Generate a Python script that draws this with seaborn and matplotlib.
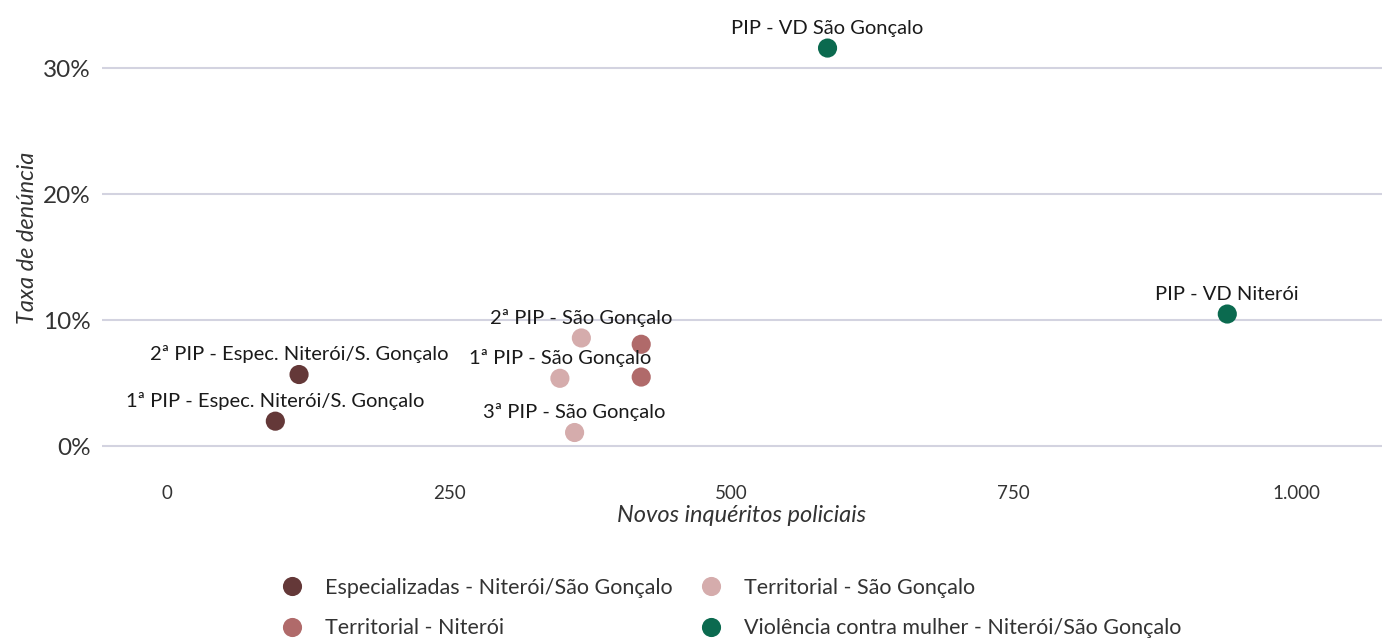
import seaborn as sns
import pandas as pd
import matplotlib.pyplot as plt
from matplotlib.ticker import FuncFormatter

# values
grupos = ["Especializadas - Niterói/São Gonçalo", "Especializadas - Niterói/São Gonçalo",
          "Territorial - São Gonçalo", "Territorial - São Gonçalo", "Territorial - São Gonçalo",
          "Territorial - Niterói", "Territorial - Niterói",
          "Violência contra mulher - Niterói/São Gonçalo", "Violência contra mulher - Niterói/São Gonçalo"]
rotulos = ["1ª PIP - Espec. Niterói/S. Gonçalo", "2ª PIP - Espec. Niterói/S. Gonçalo",
           "1ª PIP - São Gonçalo", "2ª PIP - São Gonçalo", "3ª PIP - São Gonçalo",
           None, None,
           "PIP - VD São Gonçalo", "PIP - VD Niterói"]
inqueritos = [96, 117, 348, 367, 361, 420, 420, 585, 939]
taxa = [2.0, 5.7, 5.4, 8.6, 1.1, 8.1, 5.5, 31.6, 10.5]

ordem = ["Especializadas - Niterói/São Gonçalo", "Territorial - Niterói",
         "Territorial - São Gonçalo", "Violência contra mulher - Niterói/São Gonçalo"]
cores = ["#643838", "#b06a6a", "#d5acac", "#0b6a4f"]

df = pd.DataFrame({"grupo": grupos, "rotulo": rotulos, "x": inqueritos, "y": taxa})

sns.set_style("white")
plt.rcParams["font.family"] = ["Lato", "DejaVu Sans"]

fig = plt.figure(figsize=(13.82, 6.4), dpi=100)
ax = fig.add_axes([0.0738, 0.273, 0.9262, 0.711])

sns.scatterplot(data=df, x="x", y="y", hue="grupo", hue_order=ordem,
                palette=cores, s=190, edgecolor="none", ax=ax, zorder=3)

for _, r in df.iterrows():
    if r["rotulo"]:
        ax.annotate(r["rotulo"], (r["x"], r["y"]), xytext=(0, 8),
                    textcoords="offset points", ha="center", va="bottom",
                    fontsize=14.5, color="#1a1a1a", zorder=4)

ax.set_xlim(-57.5, 1076)
ax.set_ylim(-1.5, 34.6)
ax.set_xticks([0, 250, 500, 750, 1000])
ax.xaxis.set_major_formatter(FuncFormatter(lambda v, p: f"{v:,.0f}".replace(",", ".")))
ax.set_yticks([0, 10, 20, 30])
ax.yaxis.set_major_formatter(FuncFormatter(lambda v, p: f"{v:.0f}%"))
ax.yaxis.grid(True, color="#d3d3e0", linewidth=1.5)
ax.set_axisbelow(True)
sns.despine(ax=ax, left=True, bottom=True)
ax.tick_params(axis="x", labelsize=13.5, colors="#333333", length=0, pad=14)
ax.tick_params(axis="y", labelsize=17.5, colors="#333333", length=0, pad=8)
ax.set_xlabel("Novos inquéritos policiais", fontsize=17, style="italic", color="#333333", labelpad=2)
ax.set_ylabel("Taxa de denúncia", fontsize=17, style="italic", color="#333333", labelpad=4)

sns.move_legend(ax, "upper center", bbox_to_anchor=(0.4875, -0.205), ncol=2,
                title=None, frameon=False, fontsize=15.5, labelspacing=0.95,
                columnspacing=0.75, handletextpad=0.55, markerscale=1.0)
for t in ax.get_legend().get_texts():
    t.set_color("#333333")

fig.savefig("out.png", dpi=100)
